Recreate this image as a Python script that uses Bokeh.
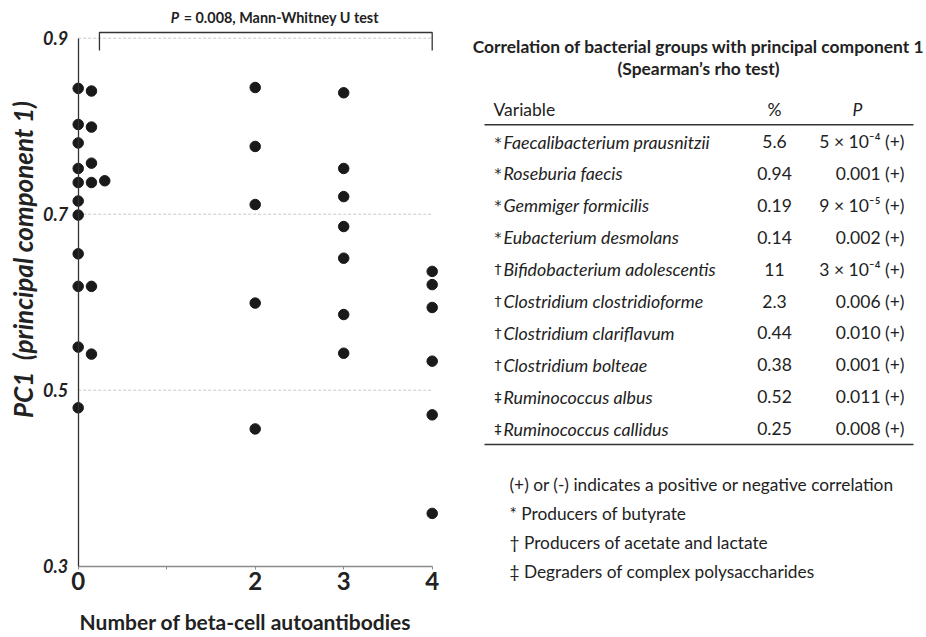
import math
from bokeh.plotting import figure
from bokeh.models import Range1d, FixedTicker, ColumnDataSource
from bokeh.core.properties import value
from bokeh.embed import file_html
from bokeh.resources import INLINE

FONT = "Lato"
INK = "#222222"

# ---------------- data ----------------
# number of beta-cell autoantibodies for each subject
autoab_count = [0] * 18 + [2] * 5 + [3] * 7 + [4] * 6
# dot column within a group (side-by-side placement of close values)
dot_column = ([0] * 11 + [1] * 6 + [2]) + [0] * 5 + [0] * 7 + [0] * 6
pc1 = [
    # 0 autoantibodies
    0.843, 0.802, 0.781, 0.752, 0.736, 0.715, 0.699, 0.655, 0.618, 0.549, 0.480,
    0.840, 0.799, 0.758, 0.736, 0.618, 0.541,
    0.738,
    # 2 autoantibodies
    0.844, 0.777, 0.711, 0.599, 0.456,
    # 3 autoantibodies
    0.838, 0.752, 0.720, 0.686, 0.650, 0.586, 0.542,
    # 4 autoantibodies
    0.635, 0.620, 0.594, 0.533, 0.472, 0.360,
]
x_ticks = [0, 1, 2, 3, 4]
x_tick_labels = {0: "0", 1: "", 2: "2", 3: "3", 4: "4"}
y_ticks = [0.3, 0.5, 0.7, 0.9]
y_tick_labels = {0.3: "0.3", 0.5: "0.5", 0.7: "0.7", 0.9: "0.9"}
grid_levels = [0.5, 0.7, 0.9]
x_title = "Number of beta-cell autoantibodies"
y_title = "PC1\u00a0 (principal component 1)"

test_p = "0.008"
test_name = "Mann-Whitney U test"

table_title = ["Correlation of bacterial groups with principal component 1",
               "(Spearman\u2019s rho test)"]
headers = ["Variable", "%", "P"]
symbols = ["*", "*", "*", "*", "\u2020", "\u2020", "\u2020", "\u2020", "\u2021", "\u2021"]
taxa = ["Faecalibacterium prausnitzii", "Roseburia faecis", "Gemmiger formicilis",
        "Eubacterium desmolans", "Bifidobacterium adolescentis",
        "Clostridium clostridioforme", "Clostridium clariflavum",
        "Clostridium bolteae", "Ruminococcus albus", "Ruminococcus callidus"]
percent = ["5.6", "0.94", "0.19", "0.14", "11", "2.3", "0.44", "0.38", "0.52", "0.25"]
p_values = ["5 \u00d7 10\u207b\u2074 (+)", "0.001 (+)", "9 \u00d7 10\u207b\u2075 (+)",
            "0.002 (+)", "3 \u00d7 10\u207b\u2074 (+)", "0.006 (+)", "0.010 (+)",
            "0.001 (+)", "0.011 (+)", "0.008 (+)"]
footnotes = ["(+) or (-) indicates a positive or negative correlation",
             "* Producers of butyrate",
             "\u2020 Producers of acetate and lactate",
             "\u2021 Degraders of complex polysaccharides"]

# ---------------- figure ----------------
W, H = 926, 637
PX_X = 88.5      # pixels per autoantibody unit
PX_Y = 880.0     # pixels per PC1 unit
X0_PIX = 77.7    # pixel column of x = 0
Y09_PIX = 37.7   # pixel row of y = 0.9
x_start = -X0_PIX / PX_X
y_end = 0.9 + Y09_PIX / PX_Y

p = figure(width=W, height=H,
           x_range=Range1d(x_start, x_start + W / PX_X),
           y_range=Range1d(y_end - H / PX_Y, y_end),
           output_backend="svg", toolbar_location=None, min_border=0)
p.extra_x_ranges = {"px": Range1d(0, W)}
p.extra_y_ranges = {"py": Range1d(H, 0)}
p.outline_line_color = None
p.xgrid.visible = False
p.ygrid.visible = False

# dashed guide lines
p.segment(x0=[0] * len(grid_levels), x1=[4] * len(grid_levels),
          y0=grid_levels, y1=grid_levels, line_color="#c8c8c8",
          line_dash="3 2", line_width=1)

xs = [c + 0.15 * k for c, k in zip(autoab_count, dot_column)]
src = ColumnDataSource(dict(x=xs, y=pc1))
p.scatter("x", "y", source=src, size=10.5, fill_color="#1a1a1a",
          line_color="#1a1a1a", marker="circle")

# significance bracket (0 vs 4 autoantibodies)
bx0, bx1, btop, bbot = 0.24, 4.0, 0.9065, 0.886
p.line(x=[bx0, bx0, bx1, bx1], y=[bbot, btop, btop, bbot], line_color="#333333",
       line_width=1.3)
p.text(x=[1.045], y=[0.9235], text=["P"], text_font=value(FONT),
       text_font_style="bold italic", text_font_size="14.4px",
       text_color=INK, text_baseline="middle", text_align="left")
p.text(x=[1.045], y=[0.9235], text=["= " + test_p + ", " + test_name], x_offset=13,
       text_font=value(FONT), text_font_style="bold", text_font_size="14.4px",
       text_color=INK, text_baseline="middle", text_align="left")

xa = p.xaxis[0]
xa.fixed_location = 0.3
xa.ticker = FixedTicker(ticks=x_ticks, minor_ticks=[])
xa.major_label_overrides = x_tick_labels
xa.bounds = (0, 4)
xa.axis_line_color = "#8a8a8a"
xa.axis_line_width = 1.5
xa.major_tick_line_color = "#8a8a8a"
xa.major_tick_in = 0
xa.major_tick_out = 3
xa.major_label_standoff = 3
xa.major_label_text_font = FONT
xa.major_label_text_font_style = "bold"
xa.major_label_text_font_size = "24px"
xa.major_label_text_color = INK

ya = p.yaxis[0]
ya.fixed_location = 0
ya.ticker = FixedTicker(ticks=y_ticks, minor_ticks=[])
ya.major_label_overrides = y_tick_labels
ya.bounds = (0.3, 0.9)
ya.axis_line_color = "#333333"
ya.axis_line_width = 1.3
ya.major_tick_in = 0
ya.major_tick_out = 0
ya.major_label_standoff = 10
ya.major_label_text_font = FONT
ya.major_label_text_font_style = "bold italic"
ya.major_label_text_font_size = "18px"
ya.major_label_text_color = INK

# axis titles
p.text(x=[-0.624], y=[0.6485], text=[y_title], angle=math.pi / 2,
       text_font=value(FONT), text_font_style="bold italic",
       text_font_size="26px", text_color=INK, text_align="center",
       text_baseline="middle")
p.text(x=[1.89], y=[0.2372], text=[x_title], text_font=value(FONT),
       text_font_style="bold", text_font_size="21px", text_color=INK,
       text_align="center", text_baseline="middle")

# ---------------- correlation table (pixel coordinates) ----------------
R = dict(x_range_name="px", y_range_name="py")
p.text(x=[698, 698], y=[45.7, 67.7], text=table_title, text_font=value(FONT),
       text_font_style="bold", text_font_size="17.4px", text_color=INK,
       text_align="center", text_baseline="middle", **R)
p.text(x=[493], y=[109], text=[headers[0]], text_font=value(FONT),
       text_font_size="17.5px", text_color=INK, text_align="left",
       text_baseline="middle", **R)
p.text(x=[774], y=[109], text=[headers[1]], text_font=value(FONT),
       text_font_size="17.5px", text_color=INK, text_align="center",
       text_baseline="middle", **R)
p.text(x=[857], y=[109], text=[headers[2]], text_font=value(FONT),
       text_font_style="italic", text_font_size="17.5px", text_color=INK,
       text_align="center", text_baseline="middle", **R)

row_y = [141 + 31.9 * i for i in range(len(taxa))]
p.segment(x0=[484, 484], x1=[913, 913], y0=[124.3, 444], y1=[124.3, 444],
          line_color="#333333", line_width=1.5, **R)
p.text(x=[494] * len(taxa), y=row_y, text=symbols, text_font=value("DejaVu Sans"),
       text_font_size="14px", text_color=INK, text_align="left",
       text_baseline="middle", **R)
p.text(x=[503] * len(taxa), y=row_y, text=taxa, text_font=value(FONT),
       text_font_style="italic", text_font_size="17.8px", text_color=INK,
       text_align="left", text_baseline="middle", **R)
p.text(x=[774] * len(taxa), y=row_y, text=percent, text_font=value(FONT),
       text_font_size="17.5px", text_color=INK, text_align="center",
       text_baseline="middle", **R)
p.text(x=[904] * len(taxa), y=row_y, text=p_values, text_font=value(FONT),
       text_font_size="17.5px", text_color=INK, text_align="right",
       text_baseline="middle", **R)

foot_y = [484, 512.7, 541.7, 570.7]
p.text(x=[509] * len(footnotes), y=foot_y, text=footnotes, text_font=value(FONT),
       text_font_size="17.3px", text_color=INK, text_align="left",
       text_baseline="middle", **R)

open("out.html", "w").write(file_html(p, INLINE))
